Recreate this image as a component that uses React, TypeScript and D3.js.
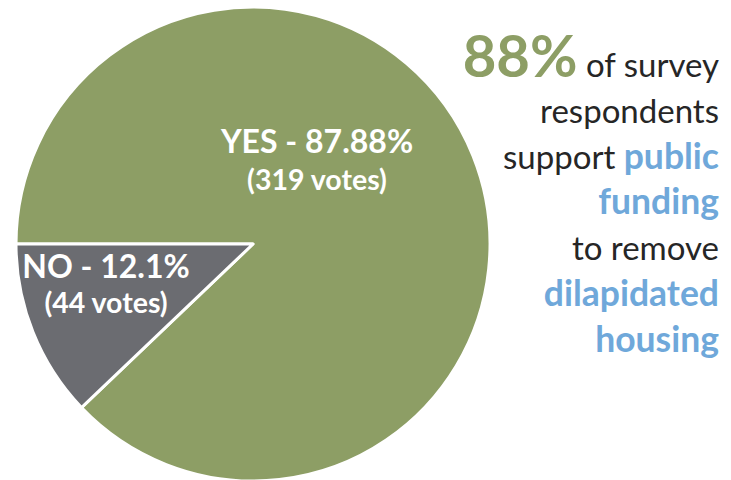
import React from "react";
import * as d3 from "d3";

const categories = ["YES", "NO"];
const votes = [319, 44];
const percentLabels = ["87.88%", "12.1%"];
const sliceColors = ["#8d9e65", "#6b6c71"];

const headline = "88%";
const sideLines: { text: string; color: string; bold: boolean }[][] = [
  [{ text: "88%", color: "green", bold: true }, { text: " of survey", color: "dark", bold: false }],
  [{ text: "respondents", color: "dark", bold: false }],
  [{ text: "support ", color: "dark", bold: false }, { text: "public", color: "blue", bold: true }],
  [{ text: "funding", color: "blue", bold: true }],
  [{ text: "to remove", color: "dark", bold: false }],
  [{ text: "dilapidated", color: "blue", bold: true }],
  [{ text: "housing", color: "blue", bold: true }],
];

const W = 731;
const H = 480;
const cx = 253;
const cy = 244;
const R = 237;
const FONT = "Lato, 'Open Sans', sans-serif";

export default function App() {
  const pie = d3
    .pie<number>()
    .sort(null)
    .startAngle(-Math.PI / 2)
    .endAngle((3 * Math.PI) / 2)
    .value((d) => d);
  const arcs = pie(votes);
  const arc = d3.arc<d3.PieArcDatum<number>>().innerRadius(0).outerRadius(R);
  const colorMap: Record<string, string> = { green: "#8d9e65", dark: "#262626", blue: "#6fa8da" };

  const labelPos = [
    { x: 317, y1: 153, y2: 190, s1: 32, s2: 28.5 },
    { x: 106, y1: 278, y2: 313, s1: 32, s2: 28.5 },
  ];

  const segSize = (seg: { text: string; bold: boolean; color: string }) =>
    seg.text === headline ? 58 : seg.color === "blue" ? 35.5 : 33;

  return (
    <svg width={W} height={H} style={{ position: "absolute", left: 0, top: 0, background: "#fff" }}>
      <g transform={`translate(${cx},${cy})`}>
        {arcs.map((a, i) => (
          <path key={categories[i]} d={arc(a) || ""} fill={sliceColors[i]} stroke="#fff" strokeWidth={3} strokeLinejoin="round" />
        ))}
      </g>
      {categories.map((c, i) => (
        <g key={c} fontFamily={FONT} fontWeight={700} fill="#fff" textAnchor="middle">
          <text x={labelPos[i].x} y={labelPos[i].y1} fontSize={labelPos[i].s1}>
            {`${c} - ${percentLabels[i]}`}
          </text>
          <text x={labelPos[i].x} y={labelPos[i].y2} fontSize={labelPos[i].s2}>
            {`(${votes[i]} votes)`}
          </text>
        </g>
      ))}
      <g fontFamily={FONT} textAnchor="end">
        {sideLines.map((line, li) => (
          <text key={li} x={719} y={77 + li * 45.8} fontSize={33} style={{ whiteSpace: "pre" }}>
            {line.map((seg, si) => (
              <tspan key={si} fill={colorMap[seg.color]} fontWeight={seg.bold ? 700 : 400} fontSize={segSize(seg)}>
                {seg.text}
              </tspan>
            ))}
          </text>
        ))}
      </g>
    </svg>
  );
}
